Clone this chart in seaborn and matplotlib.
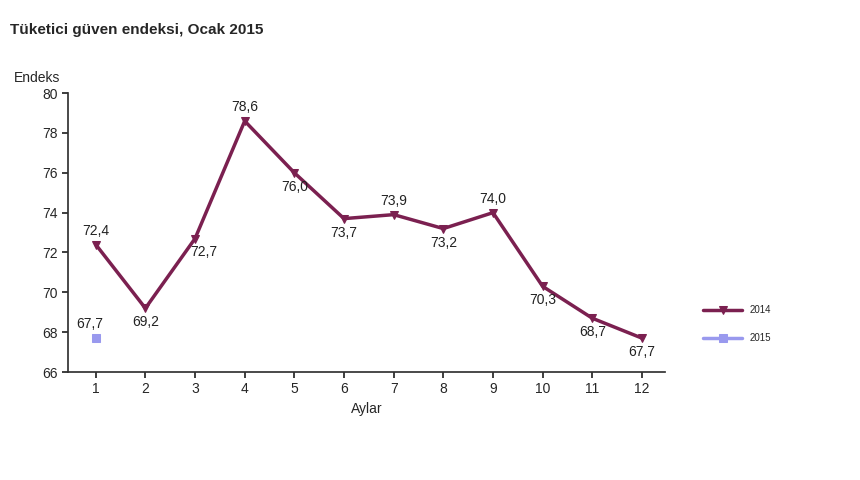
import matplotlib
matplotlib.use("Agg")
import matplotlib.pyplot as plt
import seaborn as sns
import pandas as pd

months = list(range(1, 13))
vals_2014 = [72.4, 69.2, 72.7, 78.6, 76.0, 73.7, 73.9, 73.2, 74.0, 70.3, 68.7, 67.7]
months_2015 = [1]
vals_2015 = [67.7]
# label offsets: above (+) or below (-) the point
label_pos = [1, -1, -1, 1, -1, -1, 1, -1, 1, -1, -1, -1]
label_dx = [0, 0, 6, 0, 0, 0, 0, 0, 0, 0, 0, 0]

sns.set_theme(style="white")
plt.rcParams["font.family"] = ["Liberation Sans", "DejaVu Sans"]

fig = plt.figure(figsize=(8.6, 4.8), dpi=100)
ax = fig.add_axes([0.079, 0.225, 0.694, 0.581])

df14 = pd.DataFrame({"ay": months, "endeks": vals_2014})
df15 = pd.DataFrame({"ay": months_2015, "endeks": vals_2015})
sns.lineplot(data=df14, x="ay", y="endeks", ax=ax, color="#7b2050", linewidth=2.5,
             marker="v", markersize=6, markeredgecolor="#7b2050", label="2014")
sns.lineplot(data=df15, x="ay", y="endeks", ax=ax, color="#9999ee", linewidth=2.5,
             marker="s", markersize=6, markeredgecolor="#9999ee", label="2015")

for m, v, p, dx in zip(months, vals_2014, label_pos, label_dx):
    ax.annotate(f"{v:.1f}".replace(".", ","), (m, v), xytext=(dx, 5 * p),
                textcoords="offset points", ha="center",
                va="bottom" if p > 0 else "top", fontsize=10, color="#222222")
ax.annotate("67,7", (1, 67.7), xytext=(-4, 5), textcoords="offset points",
            ha="center", va="bottom", fontsize=10, color="#222222")

ax.set_xlim(0.44, 12.46)
ax.set_ylim(66, 80)
ax.set_xticks(months)
ax.set_yticks(range(66, 81, 2))
ax.tick_params(labelsize=10, length=4, direction="out", left=True, bottom=True)
for s in ["top", "right"]:
    ax.spines[s].set_visible(False)
for s in ["left", "bottom"]:
    ax.spines[s].set_color("#333333")
ax.set_xlabel("Aylar", fontsize=10)
ax.set_ylabel("")
ax.text(-0.09, 1.04, "Endeks", transform=ax.transAxes, fontsize=10)
fig.text(0.012, 0.93, "Tüketici güven endeksi, Ocak 2015", fontsize=11, fontweight="bold")

ax.legend(loc="upper left", bbox_to_anchor=(1.05, 0.27), frameon=False, fontsize=7,
          labelspacing=1.8, handlelength=4)

fig.savefig("out.png", dpi=100)
